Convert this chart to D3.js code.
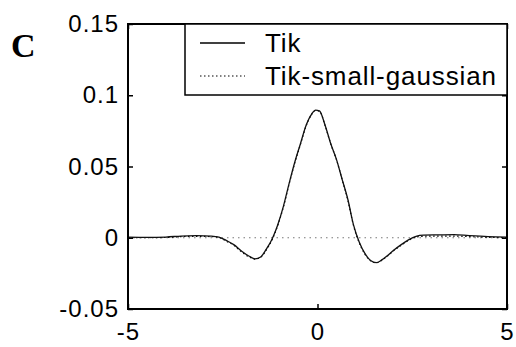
<!DOCTYPE html>
<html>
<head>
<meta charset="utf-8">
<script src="https://cdn.jsdelivr.net/npm/d3@7"></script>
<style>
  body { margin: 0; background: #fff; }
  svg { display: block; }
</style>
</head>
<body>
<div id="chart"></div>
<script>
// values
const xVals = [-5, -4.5, -4, -3.6, -3.2, -2.8, -2.6, -2.4, -2.2, -2.0, -1.8, -1.65, -1.5, -1.35, -1.2, -1.05,
  -0.9, -0.75, -0.6, -0.45, -0.3, -0.15, -0.05, 0.05, 0.2, 0.35, 0.5, 0.65, 0.8, 0.95, 1.1, 1.25, 1.4,
  1.55, 1.7, 1.85, 2.0, 2.2, 2.4, 2.6, 2.8, 3.2, 3.6, 4.0, 4.5, 5];
const tik = [0.0005, 0.0003, 0.0005, 0.0012, 0.0015, 0.0012, 0.0005, -0.002, -0.005, -0.0095, -0.013, -0.0148,
  -0.0135, -0.008, -0.001, 0.009, 0.022, 0.038, 0.053, 0.066, 0.079, 0.087, 0.0895, 0.089, 0.079, 0.066,
  0.055, 0.041, 0.027, 0.009, -0.003, -0.011, -0.016, -0.0175, -0.0155, -0.0125, -0.009, -0.005, -0.0015,
  0.001, 0.0018, 0.002, 0.0022, 0.0015, 0.0008, 0.0005];
const tikSmall = [0, 0, 0.0002, 0.0008, 0.001, 0.0008, 0.0002, -0.0025, -0.0055, -0.01, -0.0135, -0.015,
  -0.0138, -0.0085, -0.0015, 0.0085, 0.0215, 0.0375, 0.0525, 0.0655, 0.0785, 0.0868, 0.0893, 0.0888, 0.0788,
  0.0658, 0.0548, 0.0408, 0.0265, 0.0085, -0.0035, -0.0115, -0.0162, -0.0176, -0.0157, -0.0128, -0.0093,
  -0.0055, -0.002, 0.0005, 0.001, 0.0012, 0.0012, 0.0008, 0.0003, 0];
const xTicks = [-5, 0, 5];
const yTicks = [-0.05, 0, 0.05, 0.1, 0.15];
const seriesNames = ["Tik", "Tik-small-gaussian"];
const panelLabel = "C";

const width = 516, height = 347,
    margin = ({ top: 24, right: 9, bottom: 38, left: 128 });
const font = "'Liberation Sans', Arial, Helvetica, sans-serif";

const svg = d3.select("#chart")
  .append("svg")
  .attr("width", width)
  .attr("height", height);

const x = d3.scaleLinear()
  .domain([-5, 5])
  .range([margin.left, width - margin.right]);

const y = d3.scaleLinear()
  .domain([-0.05, 0.15])
  .range([height - margin.bottom, margin.top]);

// plain hyphen for negatives, like the original
const fmt = d => String(+d.toFixed(2));

// zero reference (dotted)
svg.append("line")
  .attr("x1", x(-5)).attr("x2", x(5))
  .attr("y1", y(0)).attr("y2", y(0))
  .attr("stroke", "#777")
  .attr("stroke-width", 1)
  .attr("stroke-dasharray", "1.5,4");

const line = d3.line()
  .x((d, i) => x(xVals[i]))
  .y(d => y(d))
  .curve(d3.curveMonotoneX);

svg.append("path")
  .datum(tikSmall)
  .attr("d", line)
  .attr("fill", "none")
  .attr("stroke", "#000")
  .attr("stroke-width", 1.2)
  .attr("stroke-dasharray", "1.5,2.5");

svg.append("path")
  .datum(tik)
  .attr("d", line)
  .attr("fill", "none")
  .attr("stroke", "#111")
  .attr("stroke-width", 1.3);

// axes, ticks inward on all four sides
const styleAxis = g => {
  g.select(".domain").remove();
  g.selectAll("line").attr("stroke", "#000").attr("stroke-width", 1.5);
  g.selectAll("text").attr("fill", "#000")
    .style("font-family", font).style("font-size", "24px").style("letter-spacing", "1px");
};

svg.append("g")
  .attr("transform", `translate(${margin.left},0)`)
  .call(d3.axisLeft(y).tickValues(yTicks).tickFormat(fmt).tickSizeInner(-5).tickSizeOuter(0).tickPadding(9))
  .call(styleAxis);

svg.append("g")
  .attr("transform", `translate(${width - margin.right},0)`)
  .call(d3.axisRight(y).tickValues(yTicks).tickFormat("").tickSizeInner(-5).tickSizeOuter(0))
  .call(styleAxis);

svg.append("g")
  .attr("transform", `translate(0,${height - margin.bottom})`)
  .call(d3.axisBottom(x).tickValues(xTicks).tickFormat(fmt).tickSizeInner(-5).tickSizeOuter(0).tickPadding(14))
  .call(styleAxis);

svg.append("g")
  .attr("transform", `translate(0,${margin.top})`)
  .call(d3.axisTop(x).tickValues(xTicks).tickFormat("").tickSizeInner(-5).tickSizeOuter(0))
  .call(styleAxis);

// box
svg.append("rect")
  .attr("x", margin.left).attr("y", margin.top)
  .attr("width", width - margin.left - margin.right)
  .attr("height", height - margin.top - margin.bottom)
  .attr("fill", "none")
  .attr("stroke", "#000")
  .attr("stroke-width", 2);

// legend
const lg = svg.append("g");
lg.append("rect")
  .attr("x", 185).attr("y", margin.top)
  .attr("width", width - margin.right - 185)
  .attr("height", 71)
  .attr("fill", "#fff")
  .attr("stroke", "#000")
  .attr("stroke-width", 1.5);

seriesNames.forEach((name, i) => {
  const ly = 43 + i * 33;
  lg.append("line")
    .attr("x1", 200).attr("x2", 245)
    .attr("y1", ly).attr("y2", ly)
    .attr("stroke", "#000")
    .attr("stroke-width", i === 0 ? 1.3 : 1.2)
    .attr("stroke-dasharray", i === 0 ? null : "1.5,2.5");
  lg.append("text")
    .attr("x", 265).attr("y", ly + 9)
    .text(name)
    .style("font-family", font)
    .style("font-size", "26px")
    .style("letter-spacing", "0.9px");
});

svg.append("text")
  .attr("x", 11).attr("y", 57)
  .text(panelLabel)
  .style("font-family", "'Liberation Serif', 'Times New Roman', serif")
  .style("font-weight", "bold")
  .style("font-size", "34px");
</script>
</body>
</html>
